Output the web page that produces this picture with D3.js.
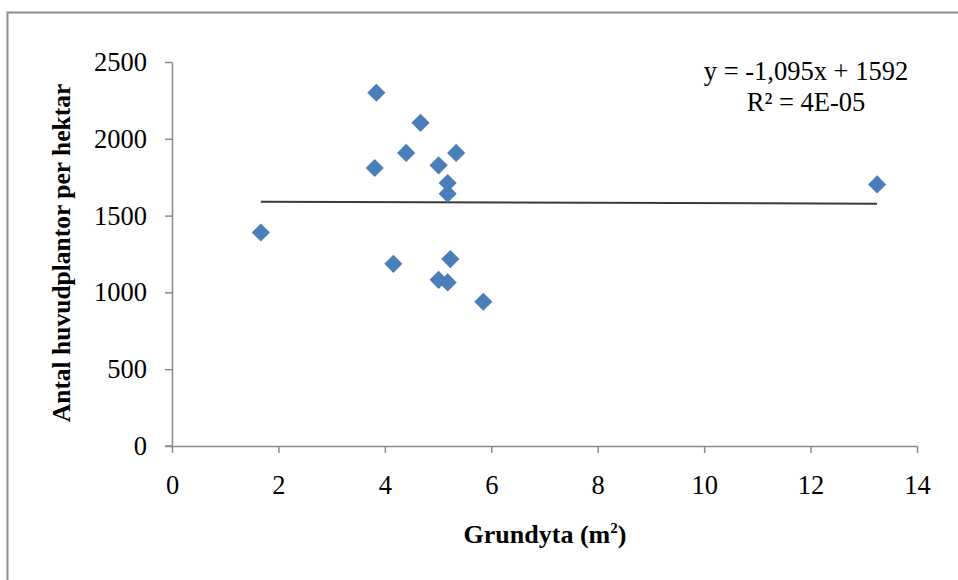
<!DOCTYPE html>
<html>
<head>
<meta charset="utf-8">
<script src="https://cdn.jsdelivr.net/npm/d3@7"></script>
<style>
  body { margin: 0; background: #fff; }
  svg { display: block; }
  text { font-family: "Liberation Serif", "Times New Roman", serif; }
</style>
</head>
<body>
<svg id="chart" width="958" height="580"></svg>
<script>
const grundyta = [3.84, 4.67, 4.40, 5.34, 3.81, 5.01, 5.18, 5.18, 4.16, 5.23, 5.01, 5.18, 5.85, 1.67, 13.25];
const plantor = [2300, 2104, 1908, 1908, 1810, 1827, 1712, 1643, 1186, 1217, 1082, 1065, 939, 1390, 1703];
const xTicks = [0, 2, 4, 6, 8, 10, 12, 14];
const yTicks = [0, 500, 1000, 1500, 2000, 2500];
const slope = -1.095;
const intercept = 1592;

const svg = d3.select("#chart");

// outer chart frame, runs off the page on the right and bottom
svg.append("rect")
  .attr("x", 7.5).attr("y", 12.5)
  .attr("width", 1000).attr("height", 1000)
  .attr("fill", "none")
  .attr("stroke", "#8c8c8c")
  .attr("stroke-width", 2);

const x = d3.scaleLinear().domain([0, 14]).range([172, 917]);
const y = d3.scaleLinear().domain([0, 2500]).range([446, 62]);

const axisColor = "#8a8a8a";

const xAxis = svg.append("g")
  .attr("transform", `translate(0,${y(0)})`)
  .call(d3.axisBottom(x).tickValues(xTicks).tickSize(7).tickPadding(22).tickSizeOuter(0));

const yAxis = svg.append("g")
  .attr("transform", `translate(${x(0)},0)`)
  .call(d3.axisLeft(y).tickValues(yTicks).tickSize(7).tickPadding(18).tickSizeOuter(0)
    .tickFormat(d3.format("d")));

[xAxis, yAxis].forEach((ax) => {
  ax.attr("font-family", null);
  ax.select(".domain").attr("stroke", axisColor).attr("stroke-width", 1.5);
  ax.selectAll(".tick line").attr("stroke", axisColor).attr("stroke-width", 1.5);
  ax.selectAll(".tick text")
    .attr("fill", "#000")
    .style("font-size", "26.5px");
});
xAxis.selectAll(".tick text").attr("dy", "0.71em");
// x axis line extends left over the y tick
xAxis.append("line")
  .attr("x1", x(0) - 7).attr("x2", x(0))
  .attr("stroke", axisColor).attr("stroke-width", 1.5);

// trend line
const xMin = d3.min(grundyta);
const xMax = d3.max(grundyta);
svg.append("line")
  .attr("x1", x(xMin)).attr("y1", y(slope * xMin + intercept))
  .attr("x2", x(xMax)).attr("y2", y(slope * xMax + intercept))
  .attr("stroke", "#3a3a3a")
  .attr("stroke-width", 2);

// points
const points = grundyta.map((v, i) => ({ x: v, y: plantor[i] }));
svg.append("g")
  .selectAll("path")
  .data(points)
  .join("path")
  .attr("d", d3.symbol(d3.symbolSquare, 165))
  .attr("transform", (d) => `translate(${x(d.x)},${y(d.y)}) rotate(45)`)
  .attr("fill", "#4a7ebb");

// equation
const eq = svg.append("g").attr("font-size", 26.5).attr("fill", "#000");
eq.append("text")
  .attr("x", 806).attr("y", 80)
  .attr("text-anchor", "middle")
  .text("y = -1,095x + 1592");
eq.append("text")
  .attr("x", 806).attr("y", 111)
  .attr("text-anchor", "middle")
  .text("R² = 4E-05");

// axis titles
const xTitle = svg.append("text")
  .attr("x", 545).attr("y", 543)
  .attr("text-anchor", "middle")
  .attr("font-weight", "bold")
  .attr("font-size", 26);
xTitle.append("tspan").text("Grundyta (m");
xTitle.append("tspan").attr("font-size", 15).attr("dy", -10).text("2");
xTitle.append("tspan").attr("dy", 10).text(")");

svg.append("text")
  .attr("transform", "translate(70,253) rotate(-90)")
  .attr("text-anchor", "middle")
  .attr("font-weight", "bold")
  .attr("font-size", 25.5)
  .text("Antal huvudplantor per hektar");
</script>
</body>
</html>
